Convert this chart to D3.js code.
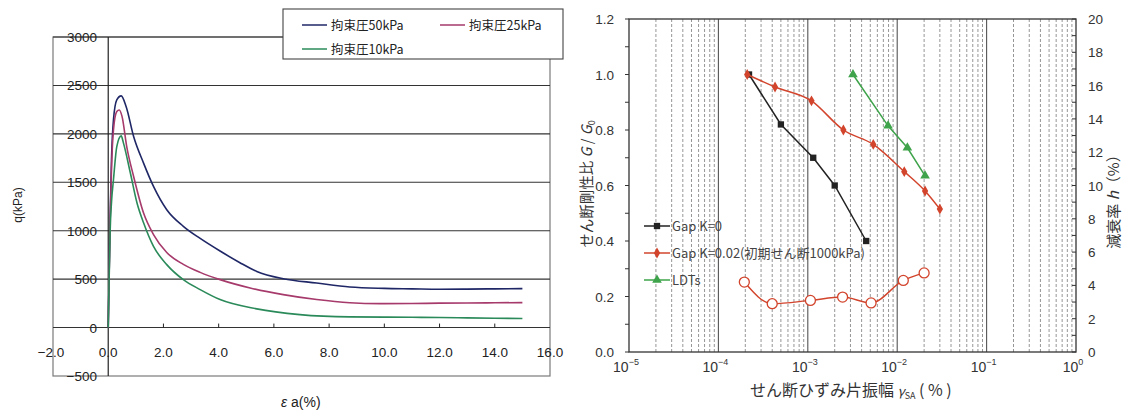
<!DOCTYPE html>
<html>
<head>
<meta charset="utf-8">
<script src="https://cdn.jsdelivr.net/npm/d3@7"></script>
<style>
  html, body { margin: 0; padding: 0; background: #fff; }
  svg { display: block; }
  text { font-family: "Liberation Sans", Arial, "Noto Sans CJK JP", sans-serif; }
  .jp { font-family: "Noto Sans CJK JP", "Liberation Sans", sans-serif; }
</style>
</head>
<body>
<script>
// ---- Triaxial compression: deviator stress q vs axial strain εa ----
const strain50 = [0, 0.03, 0.07, 0.12, 0.19, 0.31, 0.47, 0.65, 0.92, 1.28, 1.64, 2.12, 2.72, 3.33, 4.05, 4.77, 5.38, 6.34, 7.55, 8.75, 10, 11, 12, 13, 14, 15];
const q50      = [0, 500, 1150, 1750, 2144, 2350, 2392, 2280, 1973, 1698, 1457, 1216, 1045, 920, 790, 670, 580, 505, 460, 419, 405, 400, 395, 397, 400, 402];

const strain25 = [0, 0.03, 0.07, 0.12, 0.19, 0.31, 0.4, 0.5, 0.67, 0.92, 1.28, 1.64, 2.12, 2.72, 3.33, 4.05, 5.14, 6.34, 7.55, 8.75, 9.84, 11, 12, 13, 14, 15];
const q25      = [0, 500, 1100, 1650, 2041, 2230, 2247, 2180, 1869, 1560, 1182, 960, 775, 652, 570, 495, 409, 340, 289, 256, 247, 248, 252, 253, 256, 258];

const strain10 = [0, 0.03, 0.07, 0.12, 0.19, 0.31, 0.47, 0.55, 0.8, 1.04, 1.28, 1.64, 2.12, 2.72, 3.33, 4.05, 5.38, 6.94, 8.75, 10, 11, 12, 13, 14, 15];
const q10      = [0, 450, 1000, 1300, 1526, 1869, 1979, 1907, 1598, 1289, 1082, 838, 650, 495, 392, 289, 193, 134, 110, 108, 106, 104, 100, 97, 93];

const confiningLabels = ["拘束圧50kPa", "拘束圧25kPa", "拘束圧10kPa"];
const strainTicks = [-2, 0, 2, 4, 6, 8, 10, 12, 14, 16];
const qTicks = [-500, 0, 500, 1000, 1500, 2000, 2500, 3000];

// ---- Cyclic test: stiffness ratio and damping vs shear strain ----
const gammaK0  = [2.2e-4, 5.0e-4, 1.15e-3, 2.0e-3, 4.5e-3];
const ratioK0  = [1.0, 0.82, 0.70, 0.60, 0.40];
const gammaK02 = [2.1e-4, 4.3e-4, 1.1e-3, 2.5e-3, 5.4e-3, 1.2e-2, 2.05e-2, 3.0e-2];
const ratioK02 = [1.0, 0.955, 0.905, 0.80, 0.748, 0.65, 0.58, 0.515];
const gammaLDT = [3.2e-3, 7.9e-3, 1.3e-2, 2.05e-2];
const ratioLDT = [1.0, 0.815, 0.736, 0.635];
const gammaH   = [1.95e-4, 4.0e-4, 1.07e-3, 2.45e-3, 5.1e-3, 1.17e-2, 2.0e-2];
const dampingH = [4.2, 2.9, 3.1, 3.3, 2.95, 4.3, 4.75];

const seriesLabels = ["Gap K=0", "Gap K=0.02(初期せん断1000kPa)", "LDTs"];
const ratioTicks = [0, 0.2, 0.4, 0.6, 0.8, 1.0, 1.2];
const dampingTicks = [0, 2, 4, 6, 8, 10, 12, 14, 16, 18, 20];
const decadeExps = [-5, -4, -3, -2, -1, 0];

const W = 1127, H = 414;
const svg = d3.select("body").append("svg").attr("width", W).attr("height", H);

// ================= Left chart =================
const xL = d3.scaleLinear().domain([-2, 16]).range([53, 550]);
const yL = d3.scaleLinear().domain([-500, 3000]).range([376, 37]);
const gL = svg.append("g");

// outer frame
gL.append("rect").attr("x", xL(-2)).attr("y", yL(3000))
  .attr("width", xL(16) - xL(-2)).attr("height", yL(-500) - yL(3000))
  .attr("fill", "none").attr("stroke", "#7a7a7a").attr("stroke-width", 1.2);

// horizontal gridlines
gL.selectAll("line.hg").data(qTicks.filter(d => d !== -500)).join("line")
  .attr("x1", xL(-2)).attr("x2", xL(16))
  .attr("y1", d => yL(d)).attr("y2", d => yL(d))
  .attr("stroke", "#333").attr("stroke-width", 1.1);

// y axis at ε = 0
gL.append("line").attr("x1", xL(0)).attr("x2", xL(0))
  .attr("y1", yL(3000)).attr("y2", yL(-500)).attr("stroke", "#222").attr("stroke-width", 1.2);

// x-axis ticks (pointing up) along q = 0
gL.selectAll("line.xt").data(strainTicks.filter(d => d > -2 && d < 16)).join("line")
  .attr("x1", d => xL(d)).attr("x2", d => xL(d))
  .attr("y1", yL(0)).attr("y2", yL(0) - 4).attr("stroke", "#222");

// tick labels
gL.selectAll("text.yt").data(qTicks).join("text")
  .attr("x", 97).attr("y", d => yL(d) + 5)
  .attr("text-anchor", "end").attr("font-size", 13.5).attr("fill", "#222")
  .text(d => d < 0 ? "\u2212" + Math.abs(d) : d);

gL.selectAll("text.xt").data(strainTicks).join("text")
  .attr("x", d => xL(d) - (d < 0 ? 2 : 0)).attr("y", 357)
  .attr("text-anchor", "middle").attr("font-size", 13.5).attr("fill", "#222")
  .text(d => (d < 0 ? "\u2212" : "") + Math.abs(d).toFixed(1));

// axis titles
gL.append("text").attr("transform", "translate(22,205) rotate(-90)")
  .attr("text-anchor", "middle").attr("font-size", 12).attr("fill", "#222").text("q(kPa)");
const xt = gL.append("text").attr("x", 281).attr("y", 407).attr("font-size", 14).attr("fill", "#222");
xt.append("tspan").attr("font-style", "italic").text("ε");
xt.append("tspan").text(" a(%)");

// curves
const curves = [
  { x: strain50, y: q50, color: "#1f2766" },
  { x: strain25, y: q25, color: "#a63a6b" },
  { x: strain10, y: q10, color: "#2b8a5a" }
];
const lineL = d3.line().x(d => xL(d[0])).y(d => yL(d[1])).curve(d3.curveMonotoneX);
curves.forEach(c => {
  gL.append("path").datum(d3.zip(c.x, c.y)).attr("d", lineL)
    .attr("fill", "none").attr("stroke", c.color).attr("stroke-width", 1.6);
});

// legend
const lg = gL.append("g");
lg.append("rect").attr("x", 283).attr("y", 9).attr("width", 280).attr("height", 50)
  .attr("fill", "#fff").attr("stroke", "#444").attr("stroke-width", 1.1);
const legendPos = [[302, 25], [440, 25], [302, 49]];
curves.forEach((c, i) => {
  const [lx, ly] = legendPos[i];
  lg.append("line").attr("x1", lx).attr("x2", lx + 25).attr("y1", ly).attr("y2", ly)
    .attr("stroke", c.color).attr("stroke-width", 1.5);
  lg.append("text").attr("class", "jp").attr("x", lx + 29).attr("y", ly + 5)
    .attr("font-size", 12.5).attr("fill", "#222").text(confiningLabels[i]);
});

// ================= Right chart =================
const xR = d3.scaleLog().domain([1e-5, 1]).range([629, 1076]);
const yG = d3.scaleLinear().domain([0, 1.2]).range([352, 19]);
const yH = d3.scaleLinear().domain([0, 20]).range([352, 19]);
const gR = svg.append("g");

// vertical log gridlines
const gridVals = [];
for (let e = -5; e < 0; e++) {
  for (let k = 1; k <= 9; k++) gridVals.push({ v: k * Math.pow(10, e), major: k === 1 });
}
gR.selectAll("line.vg").data(gridVals.filter(d => d.v > 1e-5 * 1.01)).join("line")
  .attr("x1", d => xR(d.v)).attr("x2", d => xR(d.v))
  .attr("y1", yG(1.2)).attr("y2", yG(0))
  .attr("stroke", d => d.major ? "#555" : "#8a8a8a")
  .attr("stroke-width", d => d.major ? 1.1 : 0.9)
  .attr("stroke-dasharray", d => d.major ? null : "3,2");

// frame
gR.append("rect").attr("x", xR(1e-5)).attr("y", yG(1.2))
  .attr("width", xR(1) - xR(1e-5)).attr("height", yG(0) - yG(1.2))
  .attr("fill", "none").attr("stroke", "#333").attr("stroke-width", 1.3);

// left ticks (every 0.1)
gR.selectAll("line.lt").data(d3.range(0, 13)).join("line")
  .attr("x1", xR(1e-5) - 4).attr("x2", xR(1e-5))
  .attr("y1", d => yG(d / 10)).attr("y2", d => yG(d / 10)).attr("stroke", "#333");
// right ticks (every 1)
gR.selectAll("line.rt").data(d3.range(0, 21)).join("line")
  .attr("x1", xR(1) - 4).attr("x2", xR(1))
  .attr("y1", d => yH(d)).attr("y2", d => yH(d)).attr("stroke", "#333");

// tick labels
gR.selectAll("text.gl").data(ratioTicks).join("text")
  .attr("x", 614).attr("y", d => yG(d) + 5).attr("text-anchor", "end")
  .attr("font-size", 13.5).attr("fill", "#333").text(d => d.toFixed(1));
gR.selectAll("text.hl").data(dampingTicks).join("text")
  .attr("x", 1088).attr("y", d => yH(d) + 5).attr("text-anchor", "start")
  .attr("font-size", 13.5).attr("fill", "#333").text(d => d);
decadeExps.forEach(e => {
  const t = gR.append("text").attr("x", xR(Math.pow(10, e)) - 3).attr("y", 372)
    .attr("text-anchor", "middle").attr("font-size", 14).attr("fill", "#333");
  t.append("tspan").text("10");
  t.append("tspan").attr("dy", -7).attr("font-size", 9).text(e === 0 ? "0" : "\u2212" + Math.abs(e));
});

// axis titles
const xtR = gR.append("text").attr("class", "jp").attr("x", 750).attr("y", 396)
  .attr("font-size", 16).attr("fill", "#333");
xtR.append("tspan").text("せん断ひずみ片振幅 ");
xtR.append("tspan").attr("font-style", "italic").attr("font-size", 13).text("γ");
xtR.append("tspan").attr("font-size", 9).attr("dy", 3).text("SA");
xtR.append("tspan").attr("dy", -3).text(" ( % )");

const ytL = gR.append("text").attr("class", "jp")
  .attr("transform", "translate(592,184) rotate(-90)")
  .attr("text-anchor", "middle").attr("font-size", 14.5).attr("fill", "#333");
ytL.append("tspan").text("せん断剛性比 ");
ytL.append("tspan").attr("font-style", "italic").text("G");
ytL.append("tspan").text(" / ");
ytL.append("tspan").attr("font-style", "italic").text("G");
ytL.append("tspan").attr("font-size", 9).attr("dy", 3).text("0");

const ytR = gR.append("text").attr("class", "jp")
  .attr("transform", "translate(1119,198) rotate(-90)")
  .attr("text-anchor", "middle").attr("font-size", 15).attr("fill", "#333");
ytR.append("tspan").text("減衰率 ");
ytR.append("tspan").attr("font-style", "italic").text("h");
ytR.append("tspan").text("（%）");

// series
const cBlack = "#222", cRed = "#d2442c", cGreen = "#3ea34a";
const lineStraight = d3.line().x(d => xR(d[0])).y(d => yG(d[1]));
const lineSmooth = d3.line().x(d => xR(d[0])).y(d => yG(d[1])).curve(d3.curveMonotoneX);
const lineH = d3.line().x(d => xR(d[0])).y(d => yH(d[1])).curve(d3.curveMonotoneX);

const symSquare = d3.symbol().type(d3.symbolSquare).size(40);
const symDiamond = d3.symbol().type(d3.symbolDiamond).size(34);
const symTri = d3.symbol().type(d3.symbolTriangle).size(40);

function drawSeries(xs, ys, line, color, sym, yScale) {
  const pts = d3.zip(xs, ys);
  gR.append("path").datum(pts).attr("d", line).attr("fill", "none")
    .attr("stroke", color).attr("stroke-width", 1.5);
  gR.selectAll(null).data(pts).join("path")
    .attr("transform", d => `translate(${xR(d[0])},${yScale(d[1])})`)
    .attr("d", sym).attr("fill", color);
}
drawSeries(gammaK0, ratioK0, lineStraight, cBlack, symSquare, yG);
drawSeries(gammaK02, ratioK02, lineSmooth, cRed, symDiamond, yG);
drawSeries(gammaLDT, ratioLDT, lineStraight, cGreen, symTri, yG);

// damping (open circles, right axis)
const hPts = d3.zip(gammaH, dampingH);
gR.append("path").datum(hPts).attr("d", lineH).attr("fill", "none")
  .attr("stroke", cRed).attr("stroke-width", 1.4);
gR.selectAll("circle.h").data(hPts).join("circle")
  .attr("cx", d => xR(d[0])).attr("cy", d => yH(d[1])).attr("r", 5)
  .attr("fill", "#fff").attr("stroke", cRed).attr("stroke-width", 1.3);

// legend
const legR = [[cBlack, symSquare], [cRed, symDiamond], [cGreen, symTri]];
legR.forEach(([color, sym], i) => {
  const ly = 226 + i * 27;
  gR.append("line").attr("x1", 644).attr("x2", 670).attr("y1", ly).attr("y2", ly)
    .attr("stroke", color).attr("stroke-width", 1.5);
  gR.append("path").attr("transform", `translate(657,${ly})`).attr("d", sym).attr("fill", color);
  gR.append("text").attr("class", "jp").attr("x", 672).attr("y", ly + 5)
    .attr("font-size", 13).attr("fill", "#444").text(seriesLabels[i]);
});
</script>
</body>
</html>
